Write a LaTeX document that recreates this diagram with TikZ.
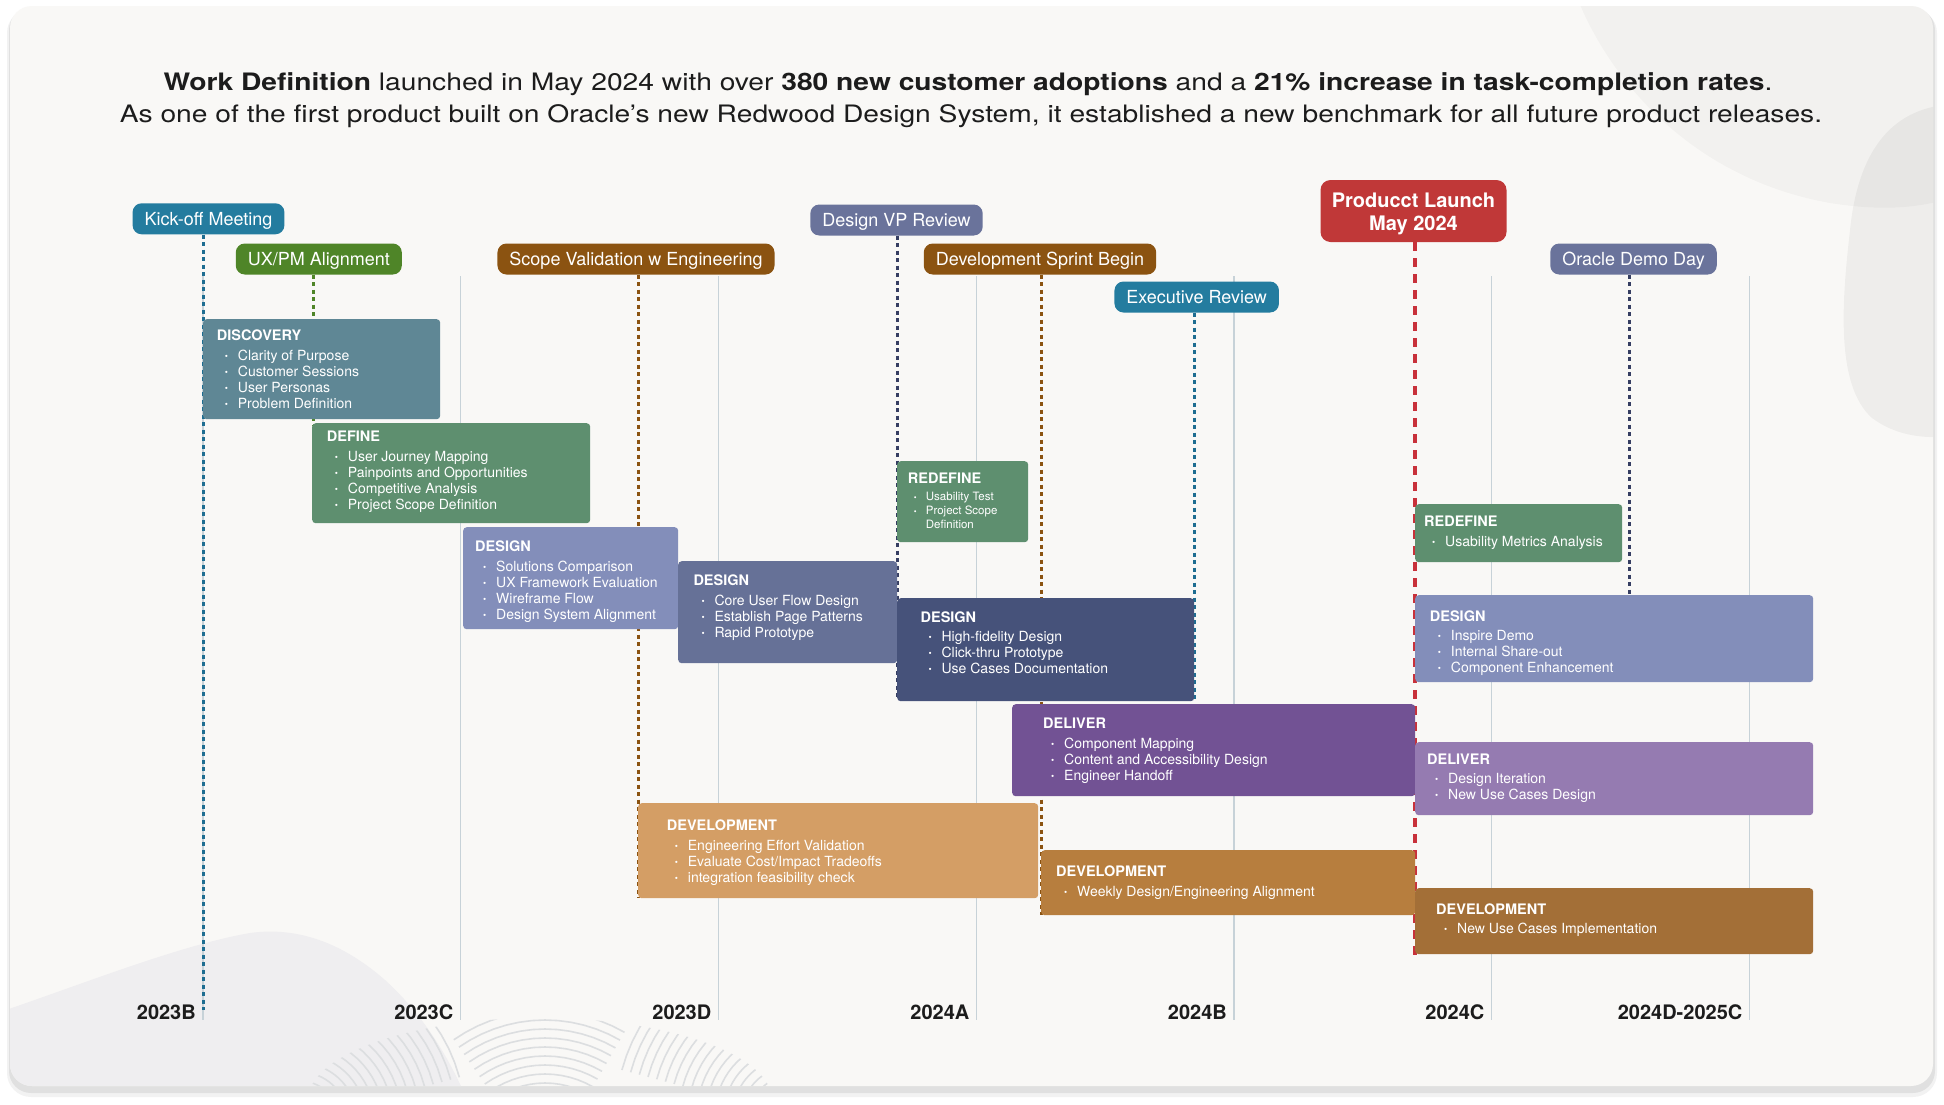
\documentclass[tikz,border=0pt]{standalone}
\usepackage{fontspec}
\setmainfont{TeX Gyre Heros}
\newfontfamily\headfont{TeX Gyre Heros}[FakeStretch=1.175]
\definecolor{cardbg}{HTML}{F9F8F6}
\definecolor{ink}{HTML}{1C1C1C}
\definecolor{gridc}{HTML}{C7D2D8}
\definecolor{mountc}{HTML}{EFEEF0}
\definecolor{grainc}{HTML}{DCDEE0}
\definecolor{pTeal}{HTML}{247C9F}
\definecolor{pGreen}{HTML}{4F8528}
\definecolor{pBrown}{HTML}{8B5311}
\definecolor{pSlate}{HTML}{6A739B}
\definecolor{pRed}{HTML}{C03838}
\definecolor{lTeal}{HTML}{1E6D91}
\definecolor{lNavy}{HTML}{363E62}
\definecolor{lRed}{HTML}{C8313A}
\definecolor{bDisc}{HTML}{5F8795}
\definecolor{bGreen}{HTML}{5E8F6F}
\definecolor{bDesA}{HTML}{838EBA}
\definecolor{bDesB}{HTML}{667197}
\definecolor{bDesC}{HTML}{46527A}
\definecolor{bDelA}{HTML}{725294}
\definecolor{bDelB}{HTML}{957BB1}
\definecolor{bDevA}{HTML}{D49E65}
\definecolor{bDevB}{HTML}{B77E3E}
\definecolor{bDevC}{HTML}{A36F37}
\newcommand\ttl[1]{{\fontsize{14.5}{16}\selectfont\bfseries #1}}
\newcommand\bitem[1]{\hspace*{8pt}\makebox[13pt][l]{\fontsize{9}{9}\selectfont\raisebox{0.8pt}{•}}#1}
\newcommand\sitem[1]{\hspace*{6pt}\makebox[12pt][l]{\fontsize{8}{8}\selectfont\raisebox{0.6pt}{•}}#1}
\newcommand\phase[6]{%
  \pgfmathsetmacro\pw{#4-#2}\pgfmathsetmacro\ph{#5-#3}%
  \node[phasebox, fill=#6, minimum width=\pw pt, minimum height=\ph pt] (#1) at (#2,#3) {};}
\tikzset{
  pill/.style={rounded corners=9pt, text=white, font=\fontsize{18}{20}\selectfont,
    inner xsep=12pt, inner ysep=0pt, minimum height=31pt, text height=13pt, text depth=0pt},
  launchbox/.style={rounded corners=10pt, fill=pRed, minimum width=186pt, minimum height=62pt, inner sep=0pt},
  launchtext/.style={anchor=base, inner sep=0pt, text=white, font=\fontsize{20}{23}\selectfont\bfseries},
  phasebox/.style={rounded corners=3.5pt, inner sep=0pt, draw=none, anchor=north west},
  phasetext/.style={anchor=base west, inner sep=0pt, text=white, font=\fontsize{14}{16}\selectfont},
  smalltext/.style={phasetext, font=\fontsize{11.5}{14}\selectfont},
  yearlab/.style={anchor=east, font=\fontsize{20}{21}\selectfont\bfseries, text=ink, inner sep=0pt},
  headline/.style={anchor=base, inner sep=0pt, text=ink, font=\headfont\fontsize{24}{30}\selectfont},
  evline/.style={line width=3pt, dash pattern=on 4pt off 3.5pt},
  redline/.style={line width=4.5pt, dash pattern=on 9pt off 7pt, draw=lRed},
  gridline/.style={draw=gridc, line width=1.1pt},
  grain/.style={draw=grainc, line width=1.6pt}
}
\begin{document}
\begin{tikzpicture}[x=1pt,y=-1pt]
\useasboundingbox (0,0) rectangle (1944,1104);
\fill[white] (0,0) rectangle (1944,1104);
% card and shadow
\fill[black,opacity=0.05,rounded corners=24pt] (7,9) rectangle (1937,1097);
\fill[black,opacity=0.07,rounded corners=22pt] (9,8) rectangle (1935,1093);
\fill[cardbg,rounded corners=22pt] (10,6) rectangle (1933,1086);
% decorations
\begin{scope}
  \clip[rounded corners=22pt] (10,6) rectangle (1933,1086);
  \fill[black,opacity=0.028] (1578,0) .. controls (1615,90) and (1700,180) .. (1830,203)
     .. controls (1880,211) and (1915,208) .. (1944,200) -- (1944,0) -- cycle;
  \fill[black,opacity=0.045] (1944,105) .. controls (1885,112) and (1857,160) .. (1850,230)
     .. controls (1842,300) and (1835,385) .. (1872,418) .. controls (1895,435) and (1920,438) .. (1944,437) -- cycle;
  \fill[mountc] (0,1012) .. controls (80,985) and (180,945) .. (250,933)
     .. controls (300,926) and (345,945) .. (385,980) .. controls (420,1012) and (445,1050) .. (465,1095) -- (0,1095) -- cycle;
  \begin{scope}
    \clip (540,1100) ellipse [x radius=232pt, y radius=82pt];
    \foreach \r in {30,39,...,170} {
      \draw[grain] plot[domain=15:85, samples=14] ({300+\r*cos(\x)},{1120-\r*sin(\x)});
    }
    \foreach \r in {60,69,...,160} {
      \draw[grain] plot[domain=60:125, samples=14] ({545+\r*cos(\x)},{1170-\r*sin(\x)});
    }
    \foreach \r in {30,39,...,180} {
      \draw[grain] plot[domain=100:165, samples=14] ({790+\r*cos(\x)},{1115-\r*sin(\x)});
    }
  \end{scope}
\end{scope}
% grid
\foreach \gx in {203,460.5,718.5,976.5,1234,1491.5,1749.5} {
  \draw[gridline] (\gx,276) -- (\gx,1020);
}
% milestones
\node[pill, fill=pTeal] (kick) at (208.5,218.8) {Kick-off Meeting};
\node[pill, fill=pGreen] (uxpm) at (318.8,259) {UX/PM Alignment};
\node[pill, fill=pBrown] (scope) at (636,259) {Scope Validation w Engineering};
\node[pill, fill=pSlate] (vp) at (896.5,220) {Design VP Review};
\node[pill, fill=pBrown] (sprint) at (1040,259) {Development Sprint Begin};
\node[pill, fill=pTeal] (exec) at (1196.7,297) {Executive Review};
\node[launchbox] (launch) at (1413.5,211) {};
\node[pill, fill=pSlate] (demo) at (1633.5,259) {Oracle Demo Day};
\node[launchtext] (launch-t) at (1413.5,207.2) {\begin{tabular}[t]{@{}c@{}}Producct Launch\\May 2024\end{tabular}};
% line end points
\coordinate (kickE) at (203,1010);
\coordinate (uxpmE) at (313.3,425);
\coordinate (scopeE) at (638,898);
\coordinate (vpE) at (897,700);
\coordinate (sprintE) at (1041,915);
\coordinate (execE) at (1194,700);
\coordinate (launchE) at (1415,962);
\coordinate (demoE) at (1629,595);
\draw[evline, draw=lTeal] (kick.south -| kickE) -- (kickE);
\draw[evline, draw=pGreen] (uxpm.south -| uxpmE) -- (uxpmE);
\draw[evline, draw=pBrown] (scope.south -| scopeE) -- (scopeE);
\draw[evline, draw=lNavy] (vp.south -| vpE) -- (vpE);
\draw[evline, draw=pBrown] (sprint.south -| sprintE) -- (sprintE);
\draw[evline, draw=lTeal] (exec.south -| execE) -- (execE);
\draw[redline] (launch.south -| launchE) -- (launchE);
\draw[evline, draw=lNavy] (demo.south -| demoE) -- (demoE);
% phase boxes
\phase{disc}{203}{319}{440}{419}{bDisc}
\phase{def}{312}{423}{590}{523}{bGreen}
\phase{desa}{463}{527}{678}{629}{bDesA}
\phase{desb}{678}{561}{897}{663}{bDesB}
\phase{deva}{638}{803}{1038}{898}{bDevA}
\phase{redefa}{897}{461}{1028}{542}{bGreen}
\phase{desc}{897}{598}{1194}{701}{bDesC}
\phase{dela}{1012}{704}{1415}{796}{bDelA}
\phase{devb}{1041}{850}{1415}{915}{bDevB}
\phase{redefb}{1415}{504}{1622}{562}{bGreen}
\phase{desd}{1415}{595}{1813}{682}{bDesA}
\phase{delb}{1415}{742}{1813}{815}{bDelB}
\phase{devc}{1415}{888}{1813}{954}{bDevC}
% phase texts
\node[phasetext] (disc-t) at (216.7,340.7) {\begin{tabular}[t]{@{}l@{}}\ttl{DISCOVERY}\\[3.3pt]\bitem{Clarity of Purpose}\\\bitem{Customer Sessions}\\\bitem{User Personas}\\\bitem{Problem Definition}\end{tabular}};
\node[phasetext] (def-t) at (326.7,441.7) {\begin{tabular}[t]{@{}l@{}}\ttl{DEFINE}\\[3.3pt]\bitem{User Journey Mapping}\\\bitem{Painpoints and Opportunities}\\\bitem{Competitive Analysis}\\\bitem{Project Scope Definition}\end{tabular}};
\node[phasetext] (desa-t) at (475,551.7) {\begin{tabular}[t]{@{}l@{}}\ttl{DESIGN}\\[3.3pt]\bitem{Solutions Comparison}\\\bitem{UX Framework Evaluation}\\\bitem{Wireframe Flow}\\\bitem{Design System Alignment}\end{tabular}};
\node[phasetext] (desb-t) at (693.3,585.7) {\begin{tabular}[t]{@{}l@{}}\ttl{DESIGN}\\[3.3pt]\bitem{Core User Flow Design}\\\bitem{Establish Page Patterns}\\\bitem{Rapid Prototype}\end{tabular}};
\node[phasetext] (deva-t) at (666.7,830.7) {\begin{tabular}[t]{@{}l@{}}\ttl{DEVELOPMENT}\\[3.3pt]\bitem{Engineering Effort Validation}\\\bitem{Evaluate Cost/Impact Tradeoffs}\\\bitem{integration feasibility check}\end{tabular}};
\node[smalltext] (redefa-t) at (907.7,483.3) {\begin{tabular}[t]{@{}l@{}}\ttl{REDEFINE}\\[3.4pt]\sitem{Usability Test}\\\sitem{Project Scope}\\\hspace*{18pt}Definition\end{tabular}};
\node[phasetext] (desc-t) at (920.4,622.3) {\begin{tabular}[t]{@{}l@{}}\ttl{DESIGN}\\[3.3pt]\bitem{High-fidelity Design}\\\bitem{Click-thru Prototype}\\\bitem{Use Cases Documentation}\end{tabular}};
\node[phasetext] (dela-t) at (1043,728.7) {\begin{tabular}[t]{@{}l@{}}\ttl{DELIVER}\\[3.3pt]\bitem{Component Mapping}\\\bitem{Content and Accessibility Design}\\\bitem{Engineer Handoff}\end{tabular}};
\node[phasetext] (devb-t) at (1056,876.7) {\begin{tabular}[t]{@{}l@{}}\ttl{DEVELOPMENT}\\[3.3pt]\bitem{Weekly Design/Engineering Alignment}\end{tabular}};
\node[phasetext] (redefb-t) at (1424,526.7) {\begin{tabular}[t]{@{}l@{}}\ttl{REDEFINE}\\[3.3pt]\bitem{Usability Metrics Analysis}\end{tabular}};
\node[phasetext] (desd-t) at (1429.7,621.3) {\begin{tabular}[t]{@{}l@{}}\ttl{DESIGN}\\[3.3pt]\bitem{Inspire Demo}\\\bitem{Internal Share-out}\\\bitem{Component Enhancement}\end{tabular}};
\node[phasetext] (delb-t) at (1427,764.3) {\begin{tabular}[t]{@{}l@{}}\ttl{DELIVER}\\[3.3pt]\bitem{Design Iteration}\\\bitem{New Use Cases Design}\end{tabular}};
\node[phasetext] (devc-t) at (1436,914.3) {\begin{tabular}[t]{@{}l@{}}\ttl{DEVELOPMENT}\\[3.3pt]\bitem{New Use Cases Implementation}\end{tabular}};
% year labels
\node[yearlab] (y1) at (196,1012) {2023B};
\node[yearlab] (y2) at (453.5,1012) {2023C};
\node[yearlab] (y3) at (711.5,1012) {2023D};
\node[yearlab] (y4) at (969.5,1012) {2024A};
\node[yearlab] (y5) at (1227,1012) {2024B};
\node[yearlab] (y6) at (1484.5,1012) {2024C};
\node[yearlab] (y7) at (1742.5,1012) {2024D-2025C};
% headline
\node[headline] (head1) at (968,90.7) {\textbf{Work Definition} launched in May 2024 with over \textbf{380 new customer adoptions} and a \textbf{21\% increase in task-completion rates}.};
\node[headline] (head2) at (971,122.7) {As one of the first product built on Oracle’s new Redwood Design System, it established a new benchmark for all future product releases.};
\end{tikzpicture}
\end{document}
